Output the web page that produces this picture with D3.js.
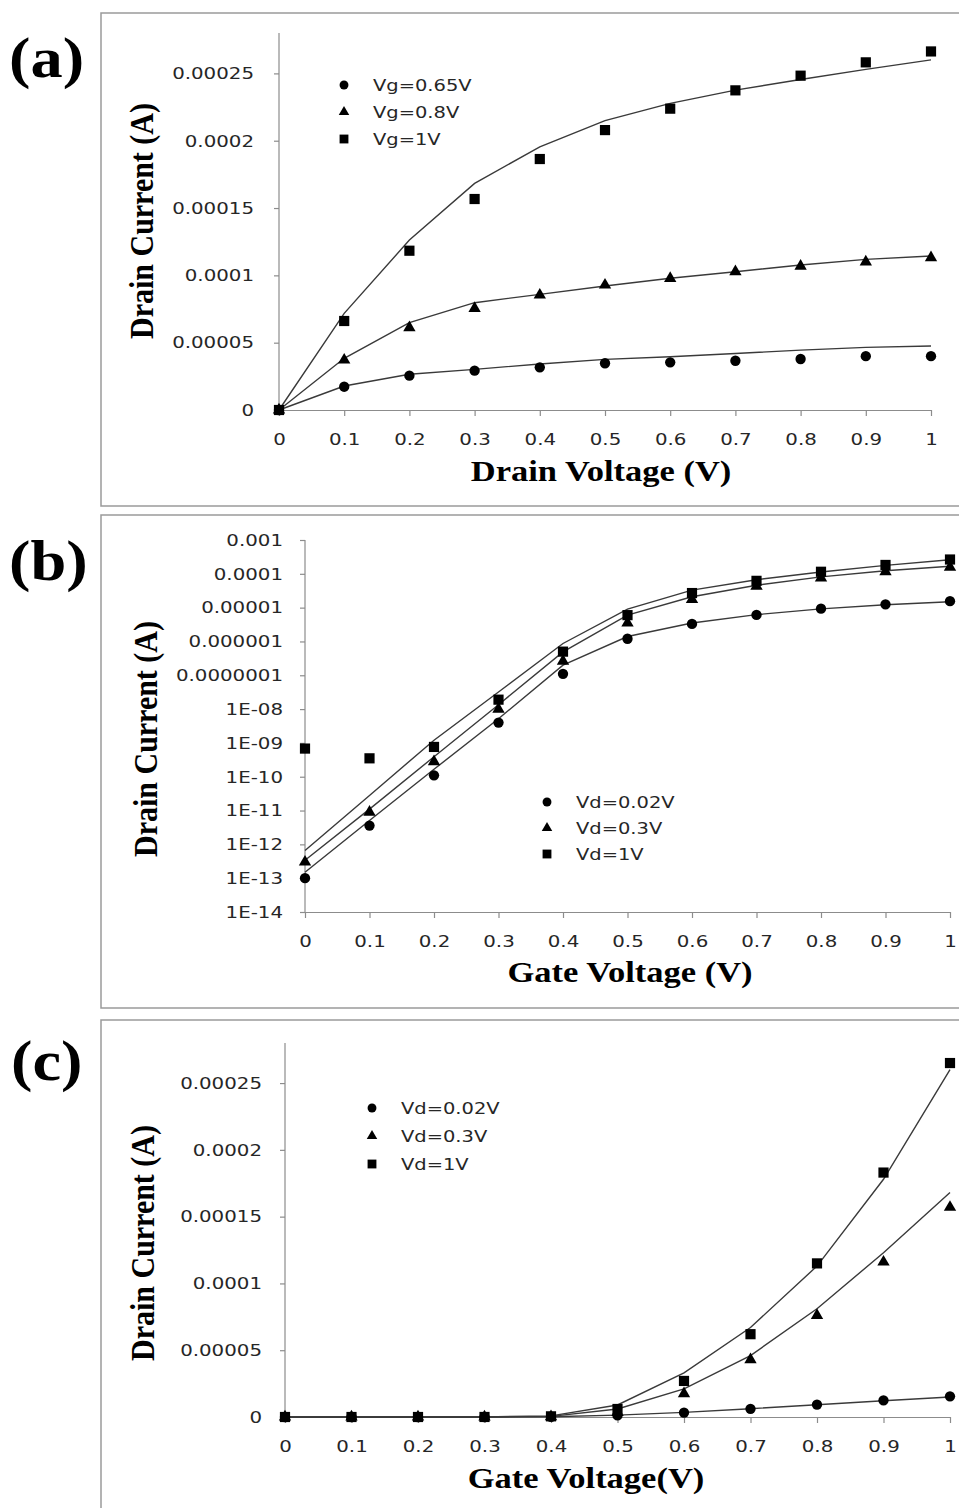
<!DOCTYPE html>
<html lang="en">
<head>
<meta charset="UTF-8">
<title>Drain current curves</title>
<script src="https://d3js.org/d3.v7.min.js"></script>
<style>
  body { margin: 0; background: #fff; }
  .axis path, .axis line { fill: none; stroke: #8c8c8c; stroke-width: 1.2; }
  .axis text { font-family: "DejaVu Sans", sans-serif; font-size: 16.5px; fill: #262626; }
  .legend text { font-family: "DejaVu Sans", sans-serif; font-size: 16.5px; fill: #262626; }
  .title { font-family: "Liberation Serif", "Times New Roman", serif; font-weight: bold; fill: #000; }
</style>
</head>
<body>
<svg width="959" height="1508"></svg>
<script>
// ---- data ----
var voltage = [0, 0.1, 0.2, 0.3, 0.4, 0.5, 0.6, 0.7, 0.8, 0.9, 1];

// (a) Id-Vd, measured points and model lines
var idVdNames = ["Vg=0.65V", "Vg=0.8V", "Vg=1V"];
var idVd065 = [0, 1.73e-5, 2.55e-5, 2.92e-5, 3.17e-5, 3.47e-5, 3.54e-5, 3.66e-5, 3.79e-5, 4.0e-5, 4.0e-5];
var idVd08  = [0, 3.71e-5, 6.11e-5, 7.55e-5, 8.54e-5, 9.28e-5, 9.78e-5, 1.027e-4, 1.069e-4, 1.10e-4, 1.131e-4];
var idVd1   = [0, 6.61e-5, 1.183e-4, 1.567e-4, 1.864e-4, 2.079e-4, 2.238e-4, 2.374e-4, 2.483e-4, 2.582e-4, 2.663e-4];
var fitVd065 = [0, 1.78e-5, 2.65e-5, 3.02e-5, 3.42e-5, 3.76e-5, 3.96e-5, 4.2e-5, 4.45e-5, 4.65e-5, 4.75e-5];
var fitVd08  = [0, 3.84e-5, 6.49e-5, 7.97e-5, 8.59e-5, 9.21e-5, 9.78e-5, 1.027e-4, 1.077e-4, 1.119e-4, 1.144e-4];
var fitVd1   = [0, 7.18e-5, 1.262e-4, 1.683e-4, 1.955e-4, 2.149e-4, 2.277e-4, 2.376e-4, 2.455e-4, 2.53e-4, 2.6e-4];

// (b),(c) Id-Vg, measured points and model lines
var idVgNames = ["Vd=0.02V", "Vd=0.3V", "Vd=1V"];
var idVg002 = [1e-13, 3.6e-12, 1.1e-10, 4e-9, 1.1e-7, 1.2e-6, 3.3e-6, 6.1e-6, 9.3e-6, 1.25e-5, 1.55e-5];
var idVg03  = [3e-13, 9e-12, 2.8e-10, 1e-8, 2.6e-7, 3.5e-6, 1.75e-5, 4.3e-5, 7.6e-5, 1.16e-4, 1.57e-4];
var idVg1   = [6.8e-10, 3.5e-10, 7.6e-10, 1.9e-8, 5e-7, 6e-6, 2.7e-5, 6.2e-5, 1.15e-4, 1.83e-4, 2.65e-4];
var fitVg002 = [1.5e-13, 5.1e-12, 1.66e-10, 5.2e-9, 2e-7, 1.4e-6, 3.5e-6, 6.2e-6, 9.2e-6, 1.22e-5, 1.5e-5];
var fitVg03  = [3.4e-13, 1.1e-11, 3.9e-10, 1.35e-8, 4.9e-7, 6e-6, 2.1e-5, 4.6e-5, 8.1e-5, 1.23e-4, 1.68e-4];
var fitVg1   = [6.6e-13, 2.8e-11, 1.2e-9, 3.2e-8, 8.7e-7, 9e-6, 3.3e-5, 6.7e-5, 1.13e-4, 1.78e-4, 2.6e-4];

// tick labels
var xTickLabels = ["0", "0.1", "0.2", "0.3", "0.4", "0.5", "0.6", "0.7", "0.8", "0.9", "1"];
var linTicks = [0, 0.00005, 0.0001, 0.00015, 0.0002, 0.00025];
var linTickLabels = ["0", "0.00005", "0.0001", "0.00015", "0.0002", "0.00025"];
var logTicks = [1e-14, 1e-13, 1e-12, 1e-11, 1e-10, 1e-9, 1e-8, 1e-7, 1e-6, 1e-5, 1e-4, 1e-3];
var logTickLabels = ["1E-14", "1E-13", "1E-12", "1E-11", "1E-10", "1E-09", "1E-08",
                     "0.0000001", "0.000001", "0.00001", "0.0001", "0.001"];

var symbols = [d3.symbolCircle, d3.symbolTriangle, d3.symbolSquare];
var markSize = [84, 66, 104];
var legSize = [62, 48, 78];

var svg = d3.select("svg");

// stretch text sideways, the picture is a bit wide
function widen(sel, k) {
    sel.each(function() {
        var t = d3.select(this);
        var x = +t.attr("x") || 0, y = +t.attr("y") || 0;
        t.attr("transform", "translate(" + x + "," + y + ") scale(" + k + ",1)")
         .attr("x", 0).attr("y", 0);
    });
}

function panel(o) {
    // frame
    svg.append("rect")
       .attr("x", 101).attr("y", o.frameTop)
       .attr("width", 900).attr("height", o.frameH)
       .attr("fill", "none").attr("stroke", "#9a9a9a").attr("stroke-width", 1.5);

    var x = d3.scaleLinear().domain([0, 1]).range([o.x0, o.x1]);
    var y = o.log
        ? d3.scaleLog().domain([1e-14, 1e-3]).range([o.y0, o.yTop])
        : d3.scaleLinear().domain([0, 0.00028]).range([o.y0, o.yTop]);

    var xAxis = d3.axisBottom(x).tickValues(voltage).tickSize(6).tickSizeOuter(0)
        .tickFormat(function(d, i) { return xTickLabels[i]; });
    var gx = svg.append("g").attr("class", "axis")
        .attr("transform", "translate(0," + o.y0 + ")").call(xAxis);
    gx.selectAll("text").attr("y", 23);
    widen(gx.selectAll("text"), 1.2);

    var yAxis = d3.axisLeft(y).tickValues(o.log ? logTicks : linTicks).tickSize(5).tickSizeOuter(0)
        .tickFormat(function(d, i) { return (o.log ? logTickLabels : linTickLabels)[i]; });
    var gy = svg.append("g").attr("class", "axis")
        .attr("transform", "translate(" + o.x0 + ",0)").call(yAxis);
    gy.selectAll("text").attr("x", -o.yPad);
    widen(gy.selectAll("text"), 1.2);
    gy.select(".domain").attr("d", "M0," + o.y0 + "V" + o.yTop);

    // model lines
    var line = d3.line().x(function(d, i) { return x(voltage[i]); }).y(function(d) { return y(d); });
    o.fits.forEach(function(f) {
        svg.append("path").attr("d", line(f))
           .attr("fill", "none").attr("stroke", "#3a3a3a").attr("stroke-width", 1.4);
    });

    // measured points
    o.points.forEach(function(p, k) {
        svg.append("g").selectAll("path").data(p).enter().append("path")
           .attr("d", d3.symbol().type(symbols[k]).size(markSize[k]))
           .attr("transform", function(d, i) { return "translate(" + x(voltage[i]) + "," + y(d) + ")"; })
           .attr("fill", "#000");
    });

    // legend
    var lg = svg.append("g").attr("class", "legend");
    o.names.forEach(function(n, k) {
        var ly = o.legY + k * o.legStep;
        lg.append("path").attr("d", d3.symbol().type(symbols[k]).size(legSize[k]))
          .attr("transform", "translate(" + o.legX + "," + ly + ")").attr("fill", "#000");
        var t = lg.append("text").attr("x", o.legX + 29).attr("y", ly + 6).text(n);
        widen(t, 1.18);
    });

    // titles
    svg.append("text").attr("class", "title").attr("font-size", 30)
       .attr("text-anchor", "middle")
       .attr("transform", "translate(" + o.xtX + "," + o.xtY + ") scale(1.15,1)")
       .text(o.xTitle);
    svg.append("text").attr("class", "title").attr("font-size", 30)
       .attr("text-anchor", "middle")
       .attr("transform", "translate(" + o.ytX + "," + o.ytY + ") scale(1.15,1) rotate(-90)")
       .text("Drain Current (A)");
    svg.append("text").attr("class", "title").attr("font-size", 56)
       .attr("transform", "translate(" + o.tagX + "," + o.tagY + ") scale(1.15,1)")
       .text(o.tag);
}

panel({
    frameTop: 13, frameH: 493, x0: 279, x1: 931, y0: 410, yTop: 33, log: false, yPad: 25,
    fits: [fitVd065, fitVd08, fitVd1], points: [idVd065, idVd08, idVd1], names: idVdNames,
    legX: 344, legY: 85, legStep: 27,
    xTitle: "Drain Voltage (V)", xtX: 601, xtY: 481, ytX: 153, ytY: 221,
    tag: "(a)", tagX: 9, tagY: 77
});
panel({
    frameTop: 515, frameH: 493, x0: 305, x1: 950, y0: 912, yTop: 540, log: true, yPad: 22,
    fits: [fitVg002, fitVg03, fitVg1], points: [idVg002, idVg03, idVg1], names: idVgNames,
    legX: 547, legY: 802, legStep: 26,
    xTitle: "Gate Voltage (V)", xtX: 630, xtY: 982, ytX: 157, ytY: 739,
    tag: "(b)", tagX: 9, tagY: 580
});
panel({
    frameTop: 1020, frameH: 600, x0: 285, x1: 950, y0: 1417, yTop: 1043, log: false, yPad: 23,
    fits: [fitVg002, fitVg03, fitVg1], points: [idVg002, idVg03, idVg1], names: idVgNames,
    legX: 372, legY: 1108, legStep: 28,
    xTitle: "Gate Voltage(V)", xtX: 586, xtY: 1488, ytX: 154, ytY: 1243,
    tag: "(c)", tagX: 11, tagY: 1080
});
</script>
</body>
</html>
